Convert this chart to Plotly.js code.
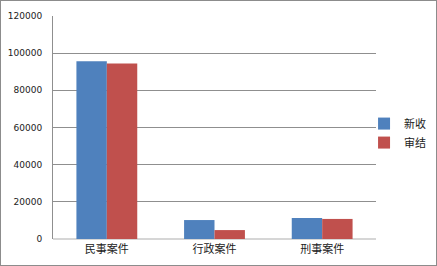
<!DOCTYPE html>
<html><head><meta charset="utf-8">
<script src="https://cdn.plot.ly/plotly-3.0.1.min.js"></script>
<style>
html,body{margin:0;padding:0;background:#fff;}
#wrap{width:435px;height:264px;border:1px solid #8c8c8c;position:relative;overflow:hidden;}
#chart{position:absolute;left:-1px;top:-1px;width:480px;height:266px;}
</style>
</head><body>
<div id="wrap"><div id="chart"></div></div>
<script>
const categories = ["民事案件", "行政案件", "刑事案件"];
const seriesNames = ["新收", "审结"];
const xinshou = [95600, 10200, 11300];
const shenjie = [94500, 4800, 10800];
const yTicks = [0, 20000, 40000, 60000, 80000, 100000, 120000];

const traces = [
  {type:"bar", name:seriesNames[0], x:categories, y:xinshou, marker:{color:"#4F81BD"}},
  {type:"bar", name:seriesNames[1], x:categories, y:shenjie, marker:{color:"#C0504D"}}
];
const layout = {
  width:480, height:266,
  margin:{l:53, r:104, t:16, b:27},
  paper_bgcolor:"rgba(0,0,0,0)", plot_bgcolor:"#fff",
  barmode:"group", bargap:0.435, bargroupgap:0,
  showlegend:true,
  legend:{x:0.963, xanchor:"left", y:0.475, yanchor:"middle", font:{family:"Noto Sans CJK SC", size:11, color:"#222"}, itemwidth:30, tracegroupgap:2, bgcolor:"rgba(0,0,0,0)"},
  xaxis:{type:"category", showline:false, showgrid:false, ticks:"", tickfont:{family:"Noto Sans CJK SC", size:11, color:"#222"}, ticklabelstandoff:2},
  yaxis:{range:[0,120000], tickvals:yTicks, ticktext:yTicks.map(String), showgrid:true, gridcolor:"#8f8f8f", gridwidth:1,
    showline:true, linecolor:"#8f8f8f", linewidth:1, zeroline:true, zerolinecolor:"#d6d6d6", zerolinewidth:2,
    ticks:"", tickfont:{family:"DejaVu Sans", size:9, color:"#222"}, ticklabelstandoff:8}
};
Plotly.newPlot("chart", traces, layout, {displayModeBar:false, staticPlot:true});
</script>
</body></html>
